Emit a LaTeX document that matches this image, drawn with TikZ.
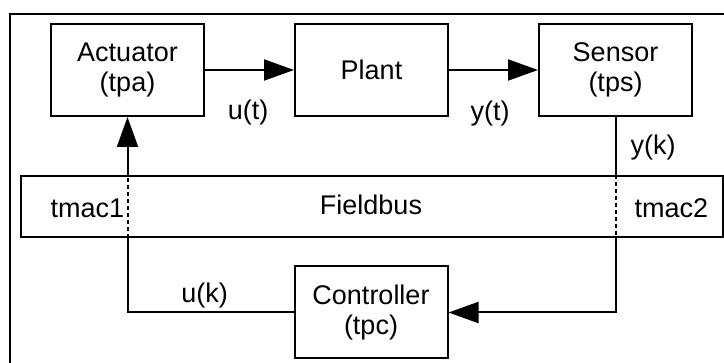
\documentclass[tikz,border=0pt]{standalone}
\usepackage{fontspec}
\setmainfont{Liberation Sans}
\usetikzlibrary{arrows.meta}

\tikzset{
	block/.style={draw, minimum width=76.5pt, minimum height=46pt, align=center, font=\fontsize{13.5}{15}\selectfont},
	sig/.style={font=\fontsize{13.5}{15}\selectfont},
	arr/.style={-{Triangle[length=15pt, width=10.5pt]}},
	bus link/.style={dash pattern=on 2pt off 1.5pt},
}

\begin{document}
\begin{tikzpicture}[x=0.5pt, y=-0.5pt, line width=1pt]
			\clip (0,0) rectangle (724,363);
			\draw (10,14) rectangle (740,380);
			
			\node [block] (act) at (127.5,70) {Actuator\\(tpa)};
			\node [block] (plant) at (371.5,70) {Plant};
			\node [block] (sens) at (615.5,70) {Sensor\\(tps)};
			\node [block, minimum width=351pt, minimum height=30.5pt] (bus) at (372,206.5) {};
			\node [block] (ctrl) at (371,312.5) {Controller\\(tpc)};
			
			\node [sig] (fb) at (371,205) {Fieldbus};
			\node [sig] (mac1) at (87.5,208) {tmac1};
			\node [sig] (mac2) at (671.5,208) {tmac2};
			\node [sig] (ut) at (248,113) {u(t)};
			\node [sig] (yt) at (490,114) {y(t)};
			\node [sig] (yk) at (653,148) {y(k)};
			\node [sig] (uk) at (204.5,296) {u(k)};
			
			\draw [arr] (act) -- (plant);
			\draw [arr] (plant) -- (sens);
			
			\draw (sens.south) -- (sens.south |- bus.north);
			\draw [bus link] (sens.south |- bus.north) -- (sens.south |- bus.south);
			\draw [arr] (sens.south |- bus.south) |- (ctrl.east);
			
			\draw (ctrl.west) -| (act.south |- bus.south);
			\draw [bus link] (act.south |- bus.south) -- (act.south |- bus.north);
			\draw [arr] (act.south |- bus.north) -- (act.south);
		\end{tikzpicture}
\end{document}
